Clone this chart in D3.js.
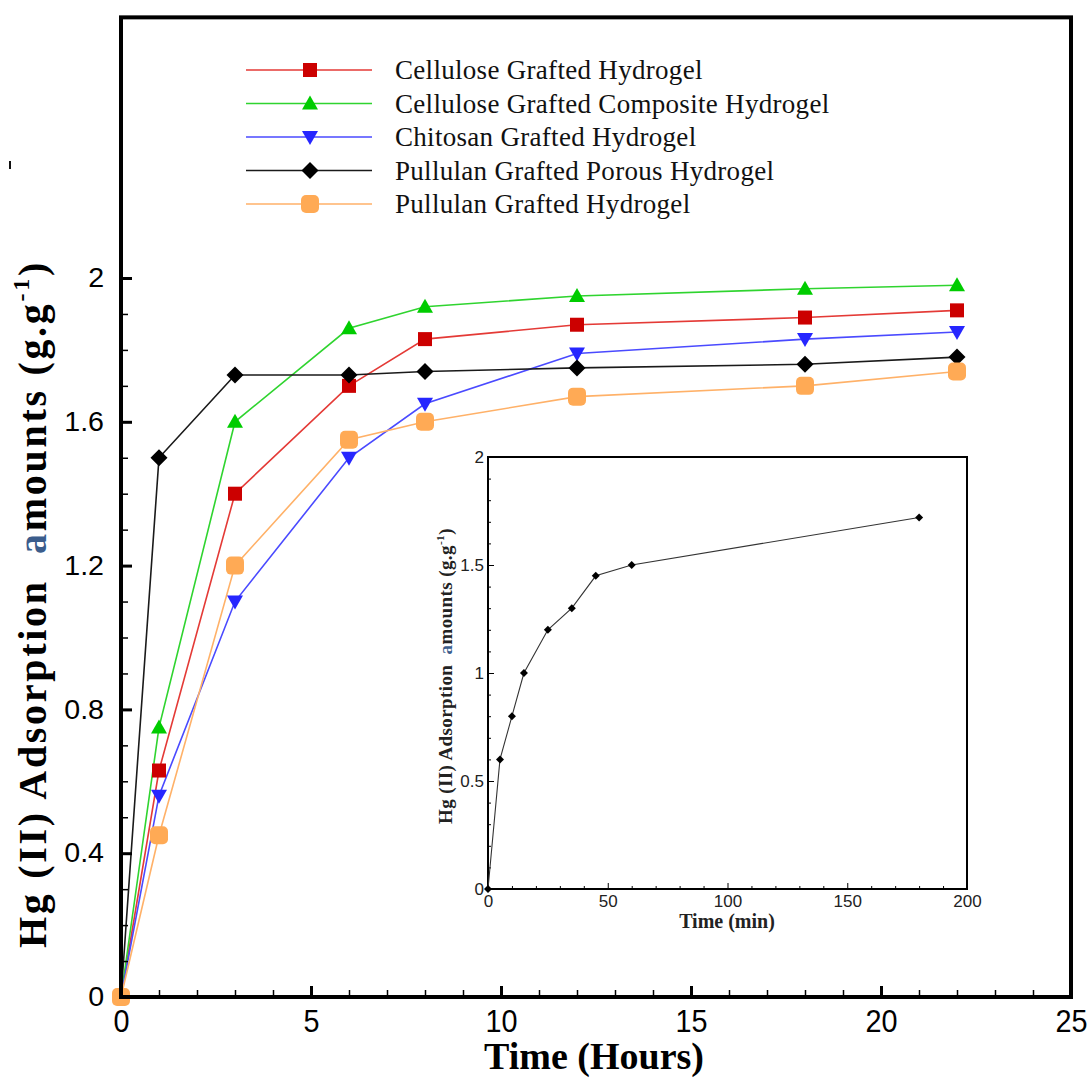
<!DOCTYPE html>
<html>
<head>
<meta charset="utf-8">
<script src="https://cdn.jsdelivr.net/npm/d3@7"></script>
<style>
  html, body { margin: 0; padding: 0; background: #fff; }
  svg { display: block; }
</style>
</head>
<body>
<svg id="chart" width="1089" height="1079"></svg>
<script>
// Sampling times (hours) for the hydrogel adsorption runs
const hours = [0, 1, 3, 6, 8, 12, 18, 22];

// Hg(II) uptake, g/g, one array per hydrogel
const celluloseGrafted          = [0, 0.63, 1.40, 1.70, 1.83, 1.87, 1.89, 1.91];
const celluloseGraftedComposite = [0, 0.75, 1.60, 1.86, 1.92, 1.95, 1.97, 1.98];
const chitosanGrafted           = [0, 0.56, 1.10, 1.50, 1.65, 1.79, 1.83, 1.85];
const pullulanGraftedPorous     = [0, 1.50, 1.73, 1.73, 1.74, 1.75, 1.76, 1.78];
const pullulanGrafted           = [0, 0.45, 1.20, 1.55, 1.60, 1.67, 1.70, 1.74];

const seriesNames = [
  "Cellulose Grafted Hydrogel",
  "Cellulose Grafted Composite Hydrogel",
  "Chitosan Grafted Hydrogel",
  "Pullulan Grafted Porous Hydrogel",
  "Pullulan Grafted Hydrogel"
];

// Inset: early-time kinetics (minutes)
const insetMinutes = [0, 5, 10, 15, 25, 35, 45, 60, 180];
const insetUptake  = [0, 0.60, 0.80, 1.00, 1.20, 1.30, 1.45, 1.50, 1.72];

// Tick values
const xMajorTicks = [0, 5, 10, 15, 20, 25];
const yMajorTicks = [0, 0.4, 0.8, 1.2, 1.6, 2];
const insetXTicks = [0, 50, 100, 150, 200];
const insetYTicks = [0, 0.5, 1, 1.5, 2];

const svg = d3.select("#chart");

// ---------- main panel ----------
const x = d3.scaleLinear().domain([0, 25]).range([121, 1071]);
const y = d3.scaleLinear().domain([0, 2]).range([997, 278]);
const yTop = 2.725;

const styles = [
  { line: "#e43a36", fill: "#cc0000", shape: "square" },
  { line: "#2fd42f", fill: "#00cc00", shape: "triUp" },
  { line: "#4a4aff", fill: "#2626ff", shape: "triDown" },
  { line: "#1a1a1a", fill: "#000000", shape: "diamond" },
  { line: "#ffb168", fill: "#ffaa55", shape: "round" }
];
const seriesValues = [celluloseGrafted, celluloseGraftedComposite, chitosanGrafted, pullulanGraftedPorous, pullulanGrafted];

function drawMarker(g, shape, fill) {
  if (shape === "square") {
    g.append("rect").attr("x", -7).attr("y", -7).attr("width", 14).attr("height", 14).attr("fill", fill);
  } else if (shape === "triUp") {
    g.append("path").attr("d", "M0,-8 L8,6 L-8,6 Z").attr("fill", fill);
  } else if (shape === "triDown") {
    g.append("path").attr("d", "M0,8 L8,-6 L-8,-6 Z").attr("fill", fill);
  } else if (shape === "diamond") {
    g.append("path").attr("d", "M0,-8.5 L8.5,0 L0,8.5 L-8.5,0 Z").attr("fill", fill);
  } else if (shape === "round") {
    g.append("rect").attr("x", -9).attr("y", -9).attr("width", 18).attr("height", 18)
      .attr("rx", 5).attr("ry", 5).attr("fill", fill);
  }
}

const line = d3.line().x(d => x(d[0])).y(d => y(d[1]));

const plot = svg.append("g");
seriesValues.forEach((vals, i) => {
  const pts = hours.map((h, k) => [h, vals[k]]);
  plot.append("path").datum(pts)
    .attr("d", line).attr("fill", "none")
    .attr("stroke", styles[i].line).attr("stroke-width", 1.6);
});
seriesValues.forEach((vals, i) => {
  hours.forEach((h, k) => {
    const g = plot.append("g").attr("transform", `translate(${x(h)},${y(vals[k])})`);
    drawMarker(g, styles[i].shape, styles[i].fill);
  });
});

// frame
svg.append("rect")
  .attr("x", x(0)).attr("y", y(yTop))
  .attr("width", x(25) - x(0)).attr("height", y(0) - y(yTop))
  .attr("fill", "none").attr("stroke", "#000").attr("stroke-width", 4);

// x axis: major + minor ticks pointing inward
const xAxis = svg.append("g").attr("transform", `translate(0,${y(0)})`)
  .call(d3.axisBottom(x).tickValues(xMajorTicks).tickSizeInner(-11).tickSizeOuter(0)
    .tickPadding(12).tickFormat(d3.format("d")));
xAxis.select(".domain").remove();
xAxis.selectAll(".tick line").attr("stroke-width", 3);
xAxis.selectAll("text").attr("font-family", "'Liberation Sans', Arial, sans-serif")
  .attr("font-size", 32).attr("fill", "#000").attr("transform", "scale(0.9,1)");

const xMinor = svg.append("g").attr("transform", `translate(0,${y(0)})`)
  .call(d3.axisBottom(x).tickValues(d3.range(0, 26).filter(v => v % 5 !== 0))
    .tickSizeInner(-7).tickSizeOuter(0).tickFormat(""));
xMinor.select(".domain").remove();
xMinor.selectAll(".tick line").attr("stroke-width", 1.5);

// y axis
const yAxis = svg.append("g").attr("transform", `translate(${x(0)},0)`)
  .call(d3.axisLeft(y).tickValues(yMajorTicks).tickSizeInner(-11).tickSizeOuter(0)
    .tickPadding(16).tickFormat(d => String(+d.toFixed(1))));
yAxis.select(".domain").remove();
yAxis.selectAll(".tick line").attr("stroke-width", 3);
yAxis.selectAll("text").attr("font-family", "'Liberation Sans', Arial, sans-serif")
  .attr("font-size", 27).attr("fill", "#000").attr("transform", "scale(1.06,1)");

const yMinorVals = d3.range(1, 20).map(v => v / 10).filter(v => Math.round(v * 10) % 4 !== 0);
const yMinor = svg.append("g").attr("transform", `translate(${x(0)},0)`)
  .call(d3.axisLeft(y).tickValues(yMinorVals).tickSizeInner(-7).tickSizeOuter(0).tickFormat(""));
yMinor.select(".domain").remove();
yMinor.selectAll(".tick line").attr("stroke-width", 1.5);

// axis titles
svg.append("text")
  .attr("x", 594).attr("y", 1069)
  .attr("text-anchor", "middle")
  .attr("font-family", "'Liberation Serif', 'Times New Roman', serif")
  .attr("font-weight", "bold").attr("font-size", 38)
  .text("Time (Hours)");

function yTitle(parent, cx, cy, size, spacing) {
  const t = parent.append("text")
    .attr("transform", `translate(${cx},${cy}) rotate(-90)`)
    .attr("text-anchor", "middle")
    .attr("font-family", "'Liberation Serif', 'Times New Roman', serif")
    .attr("font-weight", "bold").attr("font-size", size)
    .attr("letter-spacing", spacing);
  t.append("tspan").text("Hg (II) Adsorption\u00a0 ");
  t.append("tspan").attr("fill", "#3b5d8c").text("a");
  t.append("tspan").text("mounts (g.g");
  t.append("tspan").attr("dy", -size * 0.42).attr("font-size", size * 0.6).text("-1");
  t.append("tspan").attr("dy", size * 0.42).text(")");
  return t;
}
yTitle(svg, 46, 604, 40, 2.7);

// short stray stroke near the upper-left edge
svg.append("line").attr("x1", 10).attr("x2", 10).attr("y1", 161).attr("y2", 169)
  .attr("stroke", "#111").attr("stroke-width", 2);

// ---------- legend ----------
const legend = svg.append("g");
seriesNames.forEach((name, i) => {
  const ly = 70 + i * 33.5;
  legend.append("line").attr("x1", 246).attr("x2", 372).attr("y1", ly).attr("y2", ly)
    .attr("stroke", styles[i].line).attr("stroke-width", 1.6);
  const g = legend.append("g").attr("transform", `translate(310,${ly})`);
  drawMarker(g, styles[i].shape, styles[i].fill);
  legend.append("text").attr("x", 395).attr("y", ly + 9)
    .attr("font-family", "'Liberation Serif', 'Times New Roman', serif")
    .attr("font-size", 27).attr("letter-spacing", 0.3).attr("fill", "#111")
    .text(name);
});

// ---------- inset ----------
const xi = d3.scaleLinear().domain([0, 200]).range([488, 967]);
const yi = d3.scaleLinear().domain([0, 2]).range([889, 457]);
const inset = svg.append("g");

inset.append("rect")
  .attr("x", xi(0)).attr("y", yi(2))
  .attr("width", xi(200) - xi(0)).attr("height", yi(0) - yi(2))
  .attr("fill", "#fff").attr("stroke", "#000").attr("stroke-width", 2);

const ix = inset.append("g").attr("transform", `translate(0,${yi(0)})`)
  .call(d3.axisBottom(xi).tickValues(insetXTicks).tickSizeInner(-6).tickSizeOuter(0).tickPadding(6));
ix.select(".domain").remove();
ix.selectAll("text").attr("font-family", "'Liberation Sans', Arial, sans-serif")
  .attr("font-size", 17).attr("fill", "#222");
const ixm = inset.append("g").attr("transform", `translate(0,${yi(0)})`)
  .call(d3.axisBottom(xi).tickValues(d3.range(10, 200, 10).filter(v => v % 50 !== 0))
    .tickSizeInner(-3).tickSizeOuter(0).tickFormat(""));
ixm.select(".domain").remove();

const iy = inset.append("g").attr("transform", `translate(${xi(0)},0)`)
  .call(d3.axisLeft(yi).tickValues(insetYTicks).tickSizeInner(-6).tickSizeOuter(0).tickPadding(4)
    .tickFormat(d => String(d)));
iy.select(".domain").remove();
iy.selectAll("text").attr("font-family", "'Liberation Sans', Arial, sans-serif")
  .attr("font-size", 17).attr("fill", "#222");
const iym = inset.append("g").attr("transform", `translate(${xi(0)},0)`)
  .call(d3.axisLeft(yi).tickValues(d3.range(1, 20).map(v => v / 10).filter(v => Math.round(v * 10) % 5 !== 0))
    .tickSizeInner(-3).tickSizeOuter(0).tickFormat(""));
iym.select(".domain").remove();

const insetLine = d3.line().x(d => xi(d[0])).y(d => yi(d[1]));
const insetPts = insetMinutes.map((m, k) => [m, insetUptake[k]]);
inset.append("path").datum(insetPts).attr("d", insetLine)
  .attr("fill", "none").attr("stroke", "#333").attr("stroke-width", 1.1);
inset.selectAll(".ipt").data(insetPts).enter().append("path")
  .attr("transform", d => `translate(${xi(d[0])},${yi(d[1])})`)
  .attr("d", "M0,-4 L4,0 L0,4 L-4,0 Z").attr("fill", "#000");

inset.append("text")
  .attr("x", 727).attr("y", 928).attr("text-anchor", "middle")
  .attr("font-family", "'Liberation Serif', 'Times New Roman', serif")
  .attr("font-weight", "bold").attr("font-size", 20).attr("fill", "#222")
  .text("Time (min)");
yTitle(inset, 452, 676, 19, 0.4).attr("fill", "#222");
</script>
</body>
</html>
